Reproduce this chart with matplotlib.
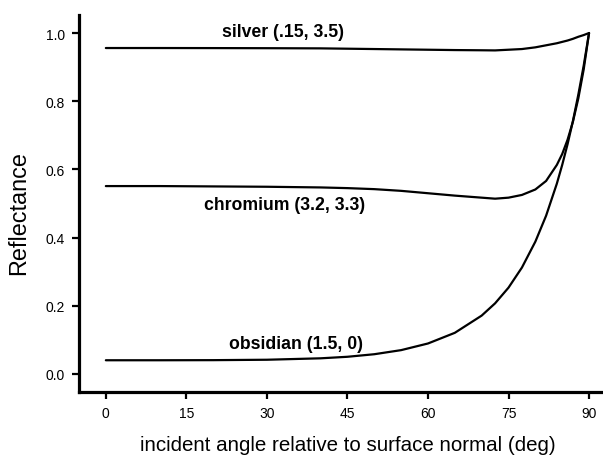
import matplotlib
matplotlib.use("Agg")
import matplotlib.pyplot as plt

plt.rcParams['font.family'] = ['Liberation Sans', 'DejaVu Sans']

angles = [0, 10, 20, 30, 40, 45, 50, 55, 60, 65, 70, 72.5, 75, 77.5, 80, 82, 84, 85, 86, 87, 88, 89, 90]
silver = [0.956, 0.956, 0.9558, 0.9555, 0.955, 0.954, 0.953, 0.952, 0.951, 0.950, 0.9494, 0.949, 0.951,
          0.953, 0.958, 0.964, 0.970, 0.974, 0.978, 0.983, 0.989, 0.994, 1.0]
chromium = [0.551, 0.551, 0.550, 0.549, 0.547, 0.545, 0.542, 0.537, 0.530, 0.523, 0.517, 0.514, 0.517,
            0.525, 0.541, 0.566, 0.613, 0.645, 0.687, 0.740, 0.808, 0.893, 1.0]
obsidian = [0.040, 0.040, 0.0403, 0.0415, 0.0457, 0.0502, 0.0577, 0.0697, 0.0892, 0.1205, 0.171, 0.207, 0.253,
            0.312, 0.388, 0.464, 0.558, 0.613, 0.674, 0.742, 0.819, 0.904, 1.0]

labels = ["silver (.15, 3.5)", "chromium (3.2, 3.3)", "obsidian (1.5, 0)"]
label_x = [33.0, 33.3, 35.5]
label_y = [1.004, 0.496, 0.089]

xticks = [0, 15, 30, 45, 60, 75, 90]
yticks = [0.0, 0.2, 0.4, 0.6, 0.8, 1.0]

fig = plt.figure(figsize=(6.03, 4.56), dpi=100)
ax = fig.add_axes([0.131, 0.139, 0.869, 0.826])

for ys in (silver, chromium, obsidian):
    ax.plot(angles, ys, color='black', lw=1.6, solid_capstyle='round')

for t, x, y in zip(labels, label_x, label_y):
    ax.text(x, y, t, ha='center', va='center', fontsize=12.7, fontweight='bold')

ax.set_xlim(-5, 92.6)
ax.set_ylim(-0.052, 1.053)
ax.set_xticks(xticks)
ax.set_xticklabels([str(v) for v in xticks])
ax.set_yticks(yticks)
ax.set_yticklabels([f"{v:.1f}" for v in yticks])
ax.spines['top'].set_visible(False)
ax.spines['right'].set_visible(False)
ax.spines['left'].set_linewidth(2.3)
ax.spines['bottom'].set_linewidth(2.3)
ax.tick_params(axis='both', width=1.6, length=5, labelsize=10, pad=5)
ax.set_xlabel("incident angle relative to surface normal (deg)", fontsize=14.8, labelpad=11, x=0.513)
ax.set_ylabel("Reflectance", fontsize=16.8, labelpad=11, y=0.478)

fig.savefig("out.png", dpi=100)
